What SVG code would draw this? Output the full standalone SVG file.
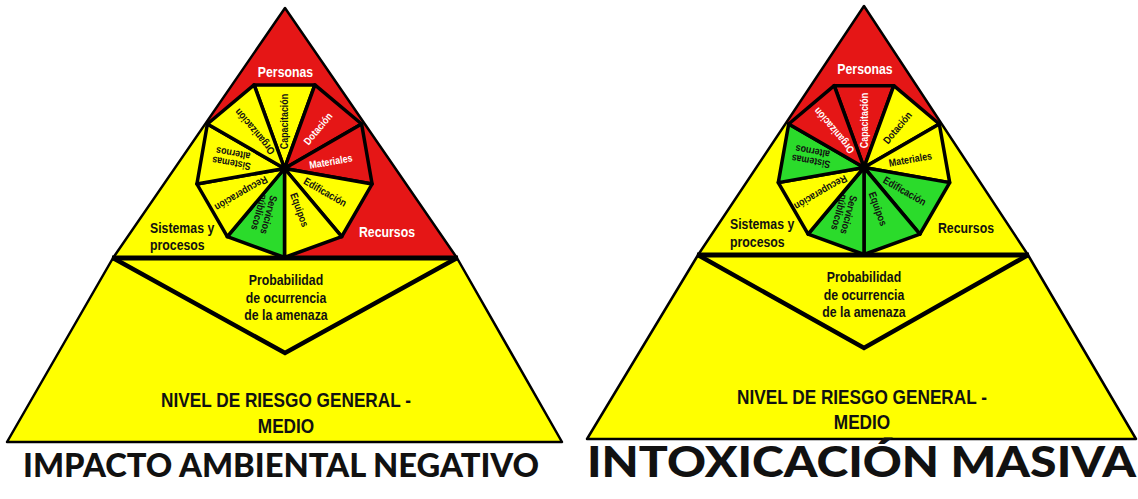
<svg xmlns="http://www.w3.org/2000/svg" width="1138" height="499" viewBox="0 0 1138 499">
<style>
.y{fill:#FFFF00}.r{fill:#E51616}.g{fill:#2BDB2B}
.sec{stroke:#000;stroke-width:3.5;stroke-linejoin:round}
.tri{fill:none;stroke:#000;stroke-width:2.5;stroke-linejoin:round}
.trap{fill:#FFFF00;stroke:#000;stroke-width:2.5;stroke-linejoin:round}
.base{stroke:#000;stroke-width:5;stroke-linecap:butt}
.inv{fill:none;stroke:#000;stroke-width:4.5;stroke-linejoin:miter}
.lbl{font-family:"Liberation Sans",Arial,sans-serif;font-weight:700}
.s{font-size:10.5px;text-anchor:middle}
.big{font-size:15px}
.mid{text-anchor:middle}
.nv{font-size:21px;text-anchor:middle}
.w{fill:#fff}.k{fill:#111}
.title{font-family:Lato,"Open Sans",sans-serif;font-weight:900;fill:#111}
</style>
<rect width="1138" height="499" fill="#fff"/>

<!-- LEFT PYRAMID -->
<g id="left-pyramid">
  <g id="L-probabilidad">
    <polygon class="trap" points="113,258 457,258 562,442 7,442"/>
    <polyline class="inv" points="113,258 285,353 457,258"/>
    <text class="lbl big mid k" transform="translate(286,285) scale(0.82,1)">Probabilidad</text>
    <text class="lbl big mid k" transform="translate(286,303) scale(0.82,1)">de ocurrencia</text>
    <text class="lbl big mid k" transform="translate(286,320) scale(0.82,1)">de la amenaza</text>
  </g>
  <g id="L-nivel">
    <text class="lbl nv k" transform="translate(286,407) scale(0.82,1)">NIVEL DE RIESGO GENERAL -</text>
    <text class="lbl nv k" transform="translate(286,433) scale(0.82,1)">MEDIO</text>
  </g>
  <g id="L-sistemas">
    <polygon class="y" points="285,8 113,258 457,258"/>
    <text class="lbl big k" transform="translate(150,232.5) scale(0.82,1)">Sistemas y</text>
    <text class="lbl big k" transform="translate(150,250) scale(0.82,1)">procesos</text>
  </g>
  <g id="L-personas">
    <polygon class="r" points="285,8 205.2,124 207.4,124 254.1,84.9 314.9,84.9 361.6,124 364.8,124"/>
    <text class="lbl big mid w" transform="translate(285.5,76.5) scale(0.82,1)">Personas</text>
  </g>
  <g id="L-recursos">
    <polygon class="r" points="364.8,124 361.6,124 372.1,184 341.7,236.7 284.5,257.5 284.5,258 457,258"/>
    <text class="lbl big mid w" transform="translate(387,237) scale(0.82,1)">Recursos</text>
  </g>
  <g id="L-wheel">
    <g id="L-capacitacion"><polygon class="sec y" points="284.5,168.5 254.1,84.9 314.9,84.9"/>
      <text class="lbl s k" transform="translate(284.5,121.5) rotate(270) scale(0.85,1)" y="3.6">Capacitación</text></g>
    <g id="L-dotacion"><polygon class="sec r" points="284.5,168.5 314.9,84.9 361.6,124"/>
      <text class="lbl s w" transform="translate(317.9,128.7) rotate(310) scale(0.85,1)" y="3.6">Dotación</text></g>
    <g id="L-materiales"><polygon class="sec r" points="284.5,168.5 361.6,124 372.1,184"/>
      <text class="lbl s w" transform="translate(330.8,161.5) rotate(350) scale(0.85,1)" y="3.6">Materiales</text></g>
    <g id="L-edificacion"><polygon class="sec y" points="284.5,168.5 372.1,184 341.7,236.7"/>
      <text class="lbl s k" transform="translate(325.2,192) rotate(30) scale(0.85,1)" y="3.6">Edificación</text></g>
    <g id="L-equipos"><polygon class="sec y" points="284.5,168.5 341.7,236.7 284.5,257.5"/>
      <text class="lbl s k" transform="translate(299.5,209.8) rotate(70) scale(0.85,1)" y="3.6">Equipos</text></g>
    <g id="L-servicios"><polygon class="sec g" points="284.5,168.5 284.5,257.5 227.3,236.7"/>
      <text class="lbl s k" transform="translate(264,213.5) rotate(105) scale(0.85,1)"><tspan x="0" y="-1.5">Servicios</tspan><tspan x="0" y="8.5">públicos</tspan></text></g>
    <g id="L-recuperacion"><polygon class="sec y" points="284.5,168.5 227.3,236.7 196.9,184"/>
      <text class="lbl s k" transform="translate(241.2,193.5) rotate(150) scale(0.85,1)" y="3.6">Recuperación</text></g>
    <g id="L-alternos"><polygon class="sec y" points="284.5,168.5 196.9,184 207.4,124"/>
      <text class="lbl s k" transform="translate(232.3,158.3) rotate(190) scale(0.85,1)"><tspan x="0" y="-1.5">Sistemas</tspan><tspan x="0" y="8.5">alternos</tspan></text></g>
    <g id="L-organizacion"><polygon class="sec y" points="284.5,168.5 207.4,124 254.1,84.9"/>
      <text class="lbl s k" transform="translate(254.6,131.7) rotate(230) scale(0.85,1)" y="3.6">Organización</text></g>
  </g>
  <polygon class="tri" points="285,8 113,258 457,258"/>
  <line class="base" x1="112" y1="258" x2="458" y2="258"/>
  <text class="title" x="23" y="477" font-size="32" textLength="516" lengthAdjust="spacingAndGlyphs">IMPACTO AMBIENTAL NEGATIVO</text>
</g>

<!-- RIGHT PYRAMID -->
<g id="right-pyramid">
  <g id="R-probabilidad">
    <polygon class="trap" points="698,255 1028,255 1136,439 587,439"/>
    <polyline class="inv" points="698,255 864,348 1028,255"/>
    <text class="lbl big mid k" transform="translate(864,282) scale(0.82,1)">Probabilidad</text>
    <text class="lbl big mid k" transform="translate(864,300) scale(0.82,1)">de ocurrencia</text>
    <text class="lbl big mid k" transform="translate(864,317) scale(0.82,1)">de la amenaza</text>
  </g>
  <g id="R-nivel">
    <text class="lbl nv k" transform="translate(862,404) scale(0.82,1)">NIVEL DE RIESGO GENERAL -</text>
    <text class="lbl nv k" transform="translate(862,429) scale(0.82,1)">MEDIO</text>
  </g>
  <g id="R-sistemas">
    <polygon class="y" points="864,6 698,255 1028,255"/>
    <text class="lbl big k" transform="translate(730,229) scale(0.82,1)">Sistemas y</text>
    <text class="lbl big k" transform="translate(730,247) scale(0.82,1)">procesos</text>
  </g>
  <g id="R-personas">
    <polygon class="r" points="864,6 785.3,124 788.7,124 834.2,85.7 893.8,85.7 939.3,124 941.7,124"/>
    <text class="lbl big mid w" transform="translate(865,74) scale(0.82,1)">Personas</text>
  </g>
  <g id="R-recursos">
    <text class="lbl big mid k" transform="translate(966,233) scale(0.82,1)">Recursos</text>
  </g>
  <g id="R-wheel">
    <g id="R-capacitacion"><polygon class="sec r" points="864,167.5 834.2,85.7 893.8,85.7"/>
      <text class="lbl s w" transform="translate(864,120.5) rotate(270) scale(0.85,1)" y="3.6">Capacitación</text></g>
    <g id="R-dotacion"><polygon class="sec y" points="864,167.5 893.8,85.7 939.3,124"/>
      <text class="lbl s k" transform="translate(897.4,127.7) rotate(310) scale(0.85,1)" y="3.6">Dotación</text></g>
    <g id="R-materiales"><polygon class="sec y" points="864,167.5 939.3,124 949.7,182.6"/>
      <text class="lbl s k" transform="translate(910.3,159.3) rotate(350) scale(0.85,1)" y="3.6">Materiales</text></g>
    <g id="R-edificacion"><polygon class="sec g" points="864,167.5 949.7,182.6 919.9,234.1"/>
      <text class="lbl s k" transform="translate(904.7,191) rotate(30) scale(0.85,1)" y="3.6">Edificación</text></g>
    <g id="R-equipos"><polygon class="sec g" points="864,167.5 919.9,234.1 864,254.5"/>
      <text class="lbl s k" transform="translate(878,208.8) rotate(70) scale(0.85,1)" y="3.6">Equipos</text></g>
    <g id="R-servicios"><polygon class="sec g" points="864,167.5 864,254.5 808.1,234.1"/>
      <text class="lbl s k" transform="translate(844,213.5) rotate(105) scale(0.85,1)"><tspan x="0" y="-1.5">Servicios</tspan><tspan x="0" y="8.5">públicos</tspan></text></g>
    <g id="R-recuperacion"><polygon class="sec y" points="864,167.5 808.1,234.1 778.3,182.6"/>
      <text class="lbl s k" transform="translate(820.7,192.5) rotate(150) scale(0.85,1)" y="3.6">Recuperación</text></g>
    <g id="R-alternos"><polygon class="sec g" points="864,167.5 778.3,182.6 788.7,124"/>
      <text class="lbl s k" transform="translate(811.8,156.3) rotate(190) scale(0.85,1)"><tspan x="0" y="-1.5">Sistemas</tspan><tspan x="0" y="8.5">alternos</tspan></text></g>
    <g id="R-organizacion"><polygon class="sec r" points="864,167.5 788.7,124 834.2,85.7"/>
      <text class="lbl s w" transform="translate(834,130.7) rotate(230) scale(0.85,1)" y="3.6">Organización</text></g>
  </g>
  <polygon class="tri" points="864,6 698,255 1028,255"/>
  <line class="base" x1="697" y1="255" x2="1029" y2="255"/>
  <text class="title" x="587" y="477" font-size="42" textLength="549" lengthAdjust="spacingAndGlyphs">INTOXICACIÓN MASIVA</text>
</g>
<g id="connectors"/>
</svg>
